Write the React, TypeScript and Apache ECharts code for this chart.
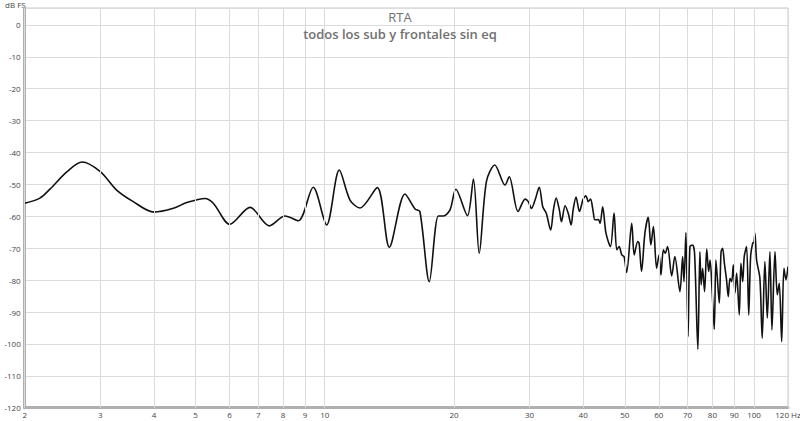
import React, { useEffect, useRef } from "react";
import * as echarts from "echarts";

const TITLE = "RTA";
const SUBTITLE = "todos los sub y frontales sin eq";
const Y_UNIT = "dB FS";

const freqHz = [
  2.0, 2.17, 2.29, 2.51, 2.72, 3.0, 3.27, 3.58, 4.0, 4.44, 4.77, 5.26, 5.5, 6.01, 6.7, 7.43,
  8.08, 8.68, 9.4, 10.1, 10.81, 11.45, 12.08, 13.25, 14.14, 15.38, 16.23, 16.66, 17.52, 18.39,
  18.89, 19.58, 20.2, 21.5, 22.2, 22.9, 23.8, 24.9, 26.3, 26.9, 28.2, 29.3, 29.8, 30.3, 30.9,
  31.6, 32.2, 32.8, 33.6, 34.1, 34.6, 35.2, 35.6, 36.3, 36.9, 37.5, 37.9, 38.5, 39.2, 40.0,
  40.6, 41.1, 41.6, 42.2, 42.6, 43.4, 43.8, 44.4, 45.2, 46.3, 47.2, 47.9, 48.5, 49.2, 49.8,
  50.5, 51.9, 52.6, 53.6, 54.0, 54.7, 55.7, 56.7, 57.5, 58.3, 59.3, 60.1, 60.7, 61.5, 62.1,
  62.9, 64.3, 65.4, 67.2, 68.2, 68.7, 69.4, 70.2, 70.9, 71.9, 72.7, 74.0, 74.8, 75.3, 75.9,
  76.7, 77.6, 78.4, 79.0, 79.9, 80.8, 81.5, 82.1, 83.0, 83.8, 84.5, 85.3, 86.3, 87.1, 87.9,
  88.7, 89.5, 90.3, 91.1, 92.4, 93.2, 94.1, 94.9, 96.1, 97.2, 98.2, 99.3, 100.0, 100.5, 101.4,
  103.2, 104.5, 106.0, 107.4, 108.9, 110.1, 111.9, 113.3, 114.5, 116.0, 117.4, 118.7, 120.0,
];

const dbValues = [
  -55.9, -54.3, -51.5, -46.0, -43.0, -46.0, -51.7, -55.4, -58.7, -57.5, -55.7, -54.4, -55.9, -62.5, -57.2, -63.0,
  -59.9, -61.4, -50.9, -62.7, -45.5, -54.9, -57.4, -51.0, -69.7, -53.0, -57.7, -58.5, -80.5, -59.9,
  -59.9, -58.0, -51.5, -59.8, -48.3, -71.6, -49.1, -43.9, -50.2, -47.6, -58.5, -54.6, -55.4, -57.5, -54.9,
  -50.9, -57.0, -59.0, -64.3, -58.0, -54.3, -58.0, -61.7, -56.7, -59.0, -62.7, -58.0, -54.0, -58.5, -54.6,
  -53.6, -55.4, -54.6, -58.5, -61.1, -61.0, -62.2, -57.0, -65.3, -69.5, -59.0, -70.5, -69.5, -72.1, -72.6,
  -77.6, -62.2, -72.1, -67.9, -68.5, -77.3, -65.3, -60.3, -69.0, -63.2, -76.3, -72.1, -78.4, -70.5, -71.6,
  -69.5, -78.7, -72.6, -83.6, -72.6, -80.5, -65.1, -97.7, -69.5, -69.0, -71.6, -101.7, -71.1, -81.5, -76.3,
  -83.6, -70.3, -77.3, -73.7, -83.6, -95.4, -73.7, -78.9, -87.2, -71.1, -70.0, -74.7, -79.9, -85.2, -79.4,
  -80.5, -75.2, -84.1, -77.8, -90.9, -74.7, -80.5, -72.6, -69.5, -90.9, -72.6, -68.4, -68.2, -65.3, -73.7,
  -79.4, -98.2, -74.2, -91.9, -71.1, -95.6, -71.1, -84.6, -81.0, -99.3, -76.3, -79.9, -75.8,
];

const xGridFreqs = [2, 3, 4, 5, 6, 7, 8, 9, 10, 20, 30, 40, 50, 60, 70, 80, 90, 100, 120];
const xTickLabels = ["2", "3", "4", "5", "6", "7", "8", "9", "10", "20", "30", "40", "50", "60", "70", "80", "90", "100", "120 Hz"];

const Y_MIN = -120;
const Y_MAX = 5.3;
const Y_STEP = 10;

export default function App() {
  const ref = useRef<HTMLDivElement>(null);

  useEffect(() => {
    if (!ref.current) return;
    const chart = echarts.init(ref.current, null, { renderer: "svg" });
    const font = "'Open Sans', 'DejaVu Sans', sans-serif";
    const points = freqHz.map((f, i) => [f, dbValues[i]]);

    chart.setOption({
      animation: false,
      backgroundColor: "#ffffff",
      textStyle: { fontFamily: font },
      title: [
        {
          text: TITLE,
          left: "center",
          top: 10,
          padding: 0,
          textStyle: { fontFamily: font, fontSize: 13, lineHeight: 14, fontWeight: "normal", color: "#707070" },
        },
        {
          text: SUBTITLE,
          left: "center",
          top: 27,
          padding: 0,
          textStyle: { fontFamily: font, fontSize: 13, lineHeight: 14, fontWeight: 600, color: "#707070" },
        },
      ],
      grid: {
        left: 24.7,
        right: 12,
        top: 8,
        bottom: 13.3,
        show: true,
        borderColor: "#c8c8c8",
        borderWidth: 1,
        backgroundColor: "#ffffff",
      },
      graphic: [
        {
          type: "text",
          left: 5,
          top: 0,
          style: { text: Y_UNIT, fontSize: 8, fill: "#444", fontFamily: font },
        },
      ],
      xAxis: {
        type: "log",
        logBase: 10,
        min: 2,
        max: 120,
        axisLine: { show: true, onZero: false, lineStyle: { color: "#b0b0b0", width: 3 } },
        axisTick: { show: false },
        axisLabel: { show: false },
        splitLine: { show: false },
      },
      yAxis: {
        type: "value",
        min: Y_MIN,
        max: Y_MAX,
        interval: Y_STEP,
        axisLine: { show: true, onZero: false, lineStyle: { color: "#b0b0b0", width: 3 } },
        axisTick: { show: false },
        axisLabel: {
          fontSize: 8,
          color: "#444",
          margin: 4,
          fontFamily: font,
          formatter: (v: number) => (v > 0 ? "" : String(v)),
        },
        splitLine: { show: true, lineStyle: { color: "#dcdcdc", width: 1 } },
      },
      series: [
        {
          type: "line",
          data: [],
          z: 1,
          silent: true,
          markLine: {
            silent: true,
            symbol: ["none", "none"],
            animation: false,
            lineStyle: { color: "#dcdcdc", type: "solid", width: 1 },
            label: {
              show: true,
              position: "start",
              distance: 3,
              fontSize: 8,
              color: "#444",
              fontFamily: font,
              formatter: (p: any) => xTickLabels[p.dataIndex],
            },
            emphasis: { disabled: true },
            data: xGridFreqs.map((f) => ({ xAxis: f })),
          },
        },
        {
          type: "line",
          data: points,
          z: 3,
          smooth: 0.3,
          showSymbol: false,
          silent: true,
          lineStyle: { color: "#111111", width: 1.6 },
        },
      ],
    });

    return () => chart.dispose();
  }, []);

  return <div ref={ref} style={{ width: 800, height: 421, position: "fixed", left: 0, top: 0 }} />;
}
